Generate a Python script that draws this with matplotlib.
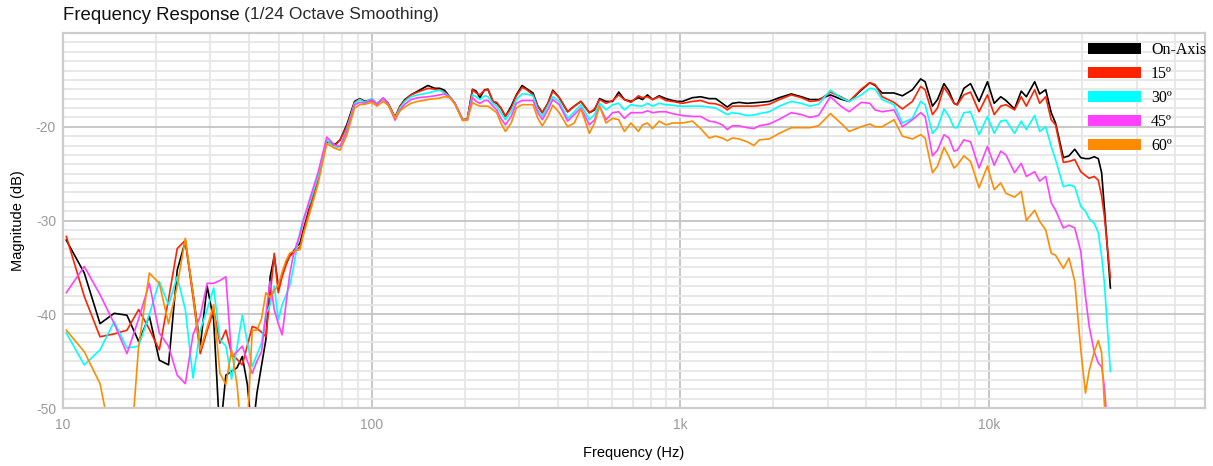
import matplotlib
matplotlib.use("Agg")
import matplotlib.pyplot as plt
from matplotlib.patches import Patch

plt.rcParams['font.family'] = ['Liberation Sans', 'DejaVu Sans']

# frequency points (Hz)
freq = [10.25, 11.72, 13.18, 14.65, 16.11, 17.58, 19.04, 20.51, 21.97, 23.44,
        24.90, 26.37, 27.83, 29.30, 30.76, 32.23, 33.69, 35.16, 36.62, 38.09,
        39.55, 41.02, 42.48, 43.95, 45.41, 46.88, 48.34, 49.80, 51.27, 52.73,
        54.20, 55.66, 57.13, 58.59,
        60.06, 63, 67, 71.5, 76, 79, 83, 88, 91.5, 95,
        100, 104, 109, 113, 119, 123.5, 128, 134, 141, 152,
        160, 166, 172, 179, 186, 197, 204, 212, 218, 224,
        232, 238, 247, 254, 262, 271, 283, 294, 307, 316,
        333, 345, 357, 372, 386, 405, 431, 453, 476, 507,
        527, 547, 574, 603, 631, 658, 691, 731, 753, 782,
        812, 853, 897, 942, 978, 1015, 1093, 1163, 1238, 1300,
        1366, 1418, 1472, 1547, 1645, 1730, 1800, 1940, 2090, 2285,
        2465, 2625, 2800, 3060, 3305, 3520, 3850, 4105, 4270, 4500,
        4915, 5235, 5640, 5998, 6200, 6550, 6800, 7140, 7410, 7690,
        7880, 8280, 8700, 9270, 9870, 10380, 10900, 11330, 12080, 12700,
        13190, 14040, 14570, 15240, 15880, 16400, 17390, 18130, 18930, 19800,
        20500, 21080, 21890, 22560, 23130, 23600, 24690]

on_axis = [-32.1, -35.6, -41.0, -39.9, -40.1, -42.9, -40.2, -44.9, -45.4, -35.3,
           -32.2, -37.8, -43.4, -37.0, -40.6, -53.0, -46.5, -46.1, -45.7, -44.5,
           -47.5, -53.0, -48.4, -45.5, -42.7, -36.0, -33.8, -37.0, -35.8, -34.6,
           -33.8, -33.3, -32.8, -32.4,
           -31.0, -28.5, -25.5, -21.6, -21.9, -21.4, -19.8, -17.3, -17.0, -17.3,
           -17.1, -17.55, -17.0, -17.5, -19.0, -17.8, -17.1, -16.6, -16.2, -15.6,
           -15.9, -15.9, -16.1, -16.8, -17.5, -19.25, -19.2, -16.0, -16.2, -16.9,
           -16.05, -16.0, -17.3, -17.5, -18.0, -18.9, -17.8, -16.6, -15.6, -15.9,
           -16.4, -17.8, -18.5, -17.5, -16.1, -16.9, -18.4, -17.8, -17.3, -18.5,
           -18.2, -17.0, -17.3, -17.3, -16.3, -17.1, -17.3, -16.9, -17.1, -16.6,
           -17.1, -16.7, -17.0, -17.2, -17.3, -17.3, -16.9, -16.8, -17.0, -17.0,
           -17.5, -17.9, -17.5, -17.4, -17.5, -17.45, -17.4, -17.3, -16.9, -16.5,
           -16.8, -17.1, -17.1, -16.6, -17.05, -17.3, -16.1, -15.3, -15.6, -16.4,
           -16.4, -16.7, -16.05, -14.9, -15.2, -17.8, -17.1, -15.4, -16.2, -17.5,
           -17.65, -15.9, -15.4, -17.3, -15.2, -17.5, -16.8, -17.2, -18.1, -16.2,
           -16.8, -15.2, -16.5, -16.05, -18.5, -19.6, -23.3, -23.1, -22.4, -23.3,
           -23.4, -23.4, -23.2, -23.4, -24.9, -28.6, -37.2]

deg15 = [-31.7, -38.1, -42.4, -42.1, -41.7, -39.5, -41.6, -43.8, -38.4, -33.0,
         -32.1, -38.2, -44.2, -41.8, -39.5, -43.1, -41.7, -44.2, -44.8, -45.4,
         -43.3, -41.3, -41.5, -41.9, -42.4, -38.0, -33.5, -37.7, -36.0, -34.8,
         -33.8, -33.5, -33.1, -32.8,
         -31.3, -28.7, -25.7, -21.5, -22.0, -21.4, -20.0, -17.4, -17.05, -17.4,
         -17.2, -17.5, -17.0, -17.5, -19.0, -17.8, -17.2, -16.6, -16.3, -15.9,
         -16.0, -16.05, -16.3, -16.8, -17.5, -19.25, -19.2, -16.05, -16.4, -16.6,
         -16.1, -16.05, -17.3, -17.4, -18.0, -18.9, -18.0, -16.7, -15.8, -16.0,
         -16.6, -17.8, -18.5, -17.5, -16.2, -16.9, -18.4, -17.8, -17.3, -18.5,
         -18.1, -17.1, -17.5, -17.2, -16.6, -17.1, -17.4, -16.7, -16.9, -16.8,
         -17.1, -16.8, -17.2, -17.3, -17.4, -17.5, -17.3, -17.2, -17.5, -17.55,
         -17.8, -18.2, -17.8, -17.8, -17.8, -17.8, -17.75, -17.6, -17.1, -16.6,
         -16.9, -17.3, -17.2, -16.3, -16.8, -17.3, -16.0, -15.3, -15.5, -16.8,
         -17.4, -18.1, -17.3, -15.7, -16.05, -18.7, -18.0, -15.8, -16.6, -17.5,
         -17.65, -16.6, -16.3, -18.4, -16.6, -18.7, -17.8, -17.65, -18.2, -16.8,
         -17.8, -16.05, -17.5, -16.8, -19.25, -19.8, -23.8, -23.7, -23.5, -24.8,
         -25.2, -25.5, -25.3, -25.7, -27.4, -29.5, -36.1]

deg30 = [-42.0, -45.4, -43.8, -40.8, -43.6, -43.4, -40.0, -36.5, -39.0, -36.0,
         -39.5, -46.8, -41.7, -39.5, -37.2, -42.7, -43.4, -46.9, -43.5, -40.1,
         -43.0, -45.6, -44.3, -43.1, -40.0, -39.0, -37.0, -40.6, -39.0, -38.0,
         -37.0, -35.2, -33.0, -31.2,
         -29.8, -28.1, -25.3, -21.4, -22.3, -22.1, -20.3, -17.5, -17.1, -17.4,
         -17.0, -17.5, -17.0, -17.6, -19.1, -18.0, -17.3, -16.8, -16.6, -16.4,
         -16.2, -16.1, -16.4, -16.8, -17.5, -19.3, -19.25, -16.6, -16.8, -17.1,
         -16.7, -16.8, -17.5, -17.8, -18.5, -19.25, -18.4, -17.1, -16.5, -16.5,
         -16.7, -18.2, -18.9, -17.8, -16.8, -17.3, -19.1, -18.4, -17.65, -19.25,
         -18.7, -17.5, -18.2, -17.65, -17.5, -18.2, -17.65, -17.8, -17.8, -17.5,
         -17.8, -17.5, -17.65, -17.7, -17.8, -17.8, -17.8, -17.8, -17.9, -18.0,
         -18.4, -18.7, -18.5, -18.6, -18.8, -18.75, -18.6, -18.4, -17.8, -17.3,
         -17.5, -17.8, -17.6, -16.1, -16.9, -17.3, -16.6, -15.9, -16.0, -17.1,
         -17.65, -19.6, -19.1, -17.3, -17.65, -20.7, -20.1, -18.1, -18.9, -20.1,
         -20.1, -18.5, -18.4, -20.85, -18.9, -20.7, -19.4, -19.3, -20.7, -19.4,
         -20.3, -18.8, -20.5, -20.0, -22.1, -23.5, -26.4, -26.2, -26.4, -28.5,
         -29.0, -29.8, -30.3, -31.3, -33.8, -36.6, -46.1]

deg45 = [-37.7, -34.9, -37.9, -41.0, -44.2, -40.5, -36.7, -42.0, -43.4, -46.5,
         -47.4, -42.2, -40.2, -36.7, -36.7, -36.4, -36.0, -44.5, -44.0, -43.4,
         -45.0, -46.3, -45.0, -44.0, -40.0, -36.5, -39.5, -41.0, -42.2, -39.0,
         -35.8, -33.8, -32.5, -31.5,
         -30.0, -27.7, -24.9, -21.1, -22.0, -22.1, -20.5, -17.65, -17.4, -17.5,
         -17.1, -17.6, -16.9, -17.6, -19.3, -18.2, -17.6, -17.1, -16.9, -16.8,
         -16.7, -16.6, -16.5, -16.9, -17.5, -19.3, -19.3, -16.9, -17.3, -17.5,
         -17.2, -17.2, -17.8, -18.2, -19.1, -19.8, -18.9, -17.5, -17.2, -17.2,
         -17.2, -18.5, -19.25, -18.2, -17.1, -17.65, -19.4, -18.7, -18.0, -19.8,
         -19.25, -17.8, -19.25, -18.5, -18.4, -19.1, -18.5, -18.5, -18.5, -18.3,
         -18.5, -18.4, -18.4, -18.6, -18.7, -18.8, -18.9, -18.9, -19.4, -19.5,
         -19.8, -20.3, -19.9, -19.9, -20.1, -20.2, -19.9, -19.7, -19.2, -18.5,
         -18.7, -19.0, -18.8, -16.8, -17.8, -18.4, -17.4, -17.5, -18.2, -18.4,
         -18.2, -20.0, -19.25, -18.5, -18.9, -23.1, -22.5, -20.85, -21.2, -22.6,
         -22.5, -21.4, -21.6, -24.4, -22.1, -24.1, -22.6, -23.0, -24.9, -23.9,
         -25.3, -24.8, -25.8, -25.3, -28.1, -28.9, -30.8, -30.5, -30.8, -33.3,
         -38.1, -41.3, -44.0, -45.2, -45.6, -47.7, -56.0]

deg60 = [-41.7, -44.0, -47.4, -55.0, -60.0, -43.4, -35.6, -36.7, -41.0, -37.0,
         -31.9, -37.8, -43.8, -41.4, -39.0, -46.3, -47.5, -43.8, -47.5, -54.0,
         -52.0, -41.7, -41.7, -40.5, -37.7, -38.2, -37.5, -36.9, -35.5, -34.3,
         -33.5, -33.3, -33.2, -33.1,
         -31.5, -29.2, -26.1, -21.8, -22.3, -22.5, -20.9, -18.0, -17.65, -17.6,
         -17.4, -17.8, -17.3, -17.7, -19.1, -18.3, -17.9, -17.5, -17.3, -17.1,
         -17.0, -16.95, -16.8, -16.9, -17.6, -19.35, -19.3, -17.4, -17.65, -17.8,
         -17.8, -17.8, -18.2, -18.5, -19.6, -20.5, -19.6, -18.0, -17.65, -17.65,
         -17.65, -19.1, -19.9, -18.9, -17.7, -18.5, -20.0, -19.6, -18.1, -20.7,
         -19.6, -17.8, -19.6, -19.1, -19.25, -20.5, -19.6, -20.5, -19.8, -19.6,
         -20.2, -19.4, -19.8, -19.6, -19.6, -19.6, -19.4, -20.2, -21.2, -21.0,
         -21.2, -21.5, -21.2, -21.3, -21.6, -22.0, -21.4, -21.3, -20.7, -20.1,
         -20.1, -20.1, -19.9, -18.6, -19.6, -20.5, -20.0, -19.7, -20.0, -20.0,
         -19.25, -21.0, -21.3, -20.85, -21.2, -24.9, -24.2, -22.2, -23.2, -24.4,
         -24.1, -23.1, -23.7, -26.5, -24.2, -26.7, -26.0, -27.1, -27.5, -26.9,
         -30.0, -28.9, -30.1, -31.0, -33.5, -33.7, -35.1, -34.0, -36.5, -43.8,
         -48.4, -46.0, -44.0, -42.8, -44.1, -49.5, -60.0]

labels = ["On-Axis", "15º", "30º", "45º", "60º"]
colors = ["#000000", "#ff2200", "#00ffff", "#ff40ff", "#ff8c00"]
series = [on_axis, deg15, deg30, deg45, deg60]

W, H = 1213, 466
fig = plt.figure(figsize=(W / 100, H / 100), dpi=100)
ax = fig.add_axes([63 / W, 1 - 408 / H, (1205 - 63) / W, (408 - 33) / H])

for vals, c in zip(series, colors):
    ax.plot(freq, vals, color=c, lw=1.2, solid_joinstyle="round")

ax.set_xscale("log")
ax.set_xlim(10, 50000)
ax.set_ylim(-50, -10)

ax.set_xticks([10, 100, 1000, 10000])
ax.set_xticklabels(["10", "100", "1k", "10k"])
minor_x = [m * d for d in [10, 100, 1000, 10000] for m in range(2, 10) if m * d < 50000]
ax.set_xticks(minor_x, minor=True)
ax.set_xticklabels([], minor=True)
ax.set_yticks([-50, -40, -30, -20])
ax.set_yticklabels(["-50", "-40", "-30", "-20"])
ax.set_yticks([v for v in range(-49, -10) if v % 10 != 0], minor=True)

ax.grid(which="minor", color="#e6e6e6", lw=1.3)
ax.grid(which="major", color="#c4c4c4", lw=1.3)
ax.set_axisbelow(True)
ax.tick_params(which="both", length=0, colors="#9a9a9a", labelsize=10)
ax.tick_params(axis="x", pad=7)
ax.tick_params(axis="y", pad=5)
for s in ax.spines.values():
    s.set_color("#cccccc")
    s.set_linewidth(1.6)

ax.set_xlabel("Frequency (Hz)", fontsize=10.5, labelpad=10)
ax.set_ylabel("Magnitude (dB)", fontsize=10.5, labelpad=8)

# title in two weights
t1 = fig.text(63 / W, 1 - 15 / H, "Frequency Response", fontsize=13.4,
              va="center", ha="left", color="#111111")
fig.canvas.draw()
bb = t1.get_window_extent()
fig.text(bb.x1 / W + 4 / W, 1 - 15 / H, "(1/24 Octave Smoothing)", fontsize=12.6,
         va="center", ha="left", color="#2a2a2a")

handles = [Patch(facecolor=c, edgecolor="none") for c in colors]
leg = ax.legend(handles, labels, loc="upper left",
                bbox_to_anchor=(1088 / W, 1 - 42 / H), bbox_transform=fig.transFigure,
                frameon=False, prop={"family": "Liberation Serif", "size": 11.5},
                handlelength=3.3, handleheight=0.75, handletextpad=0.65,
                labelspacing=0.5, borderpad=0, borderaxespad=0)

fig.savefig("out.png", dpi=100)
